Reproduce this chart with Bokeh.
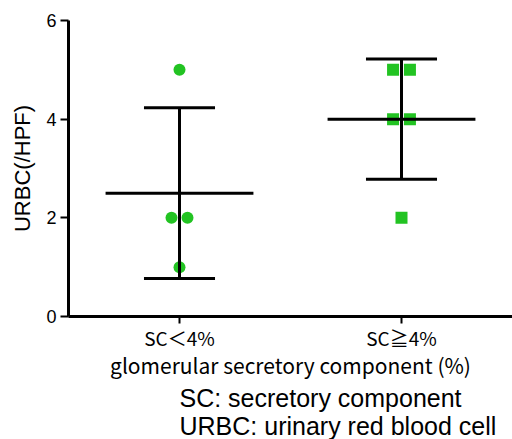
from bokeh.plotting import figure
from bokeh.models import Range1d, FixedTicker, Title, ColumnDataSource
from bokeh.embed import file_html
from bokeh.resources import INLINE

# ---- data ----
categories = ["SC＜4%", "SC≧4%"]
low_values = [5, 2, 2, 1]
high_values = [5, 5, 4, 4, 2]
group_mean = [2.5, 4.0]
group_sd = [1.73, 1.22]
y_ticks = [0, 2, 4, 6]
notes = ["SC: secretory component", "URBC: urinary red blood cell"]

# horizontal display offsets (jitter) for overlapping points
low_jitter = [0.0, -0.036, 0.036, 0.0]
high_jitter = [-0.038, 0.038, -0.038, 0.038, 0.0]

GREEN = "#22C322"

p = figure(width=512, height=439, output_backend="svg", toolbar_location=None,
           x_range=Range1d(0.5, 2.5), y_range=Range1d(0, 6),
           min_border_left=68, min_border_right=0, min_border_top=20,
           min_border_bottom=123)
p.outline_line_color = None
p.xgrid.visible = False
p.ygrid.visible = False
p.background_fill_color = "white"

pos = [1, 2]
low_src = ColumnDataSource(dict(x=[pos[0] + j for j in low_jitter], y=low_values))
high_src = ColumnDataSource(dict(x=[pos[1] + j for j in high_jitter], y=high_values))
p.scatter("x", "y", source=low_src, marker="circle", size=12, fill_color=GREEN,
          line_color=None)
p.scatter("x", "y", source=high_src, marker="square", size=12, fill_color=GREEN,
          line_color=None)

mean_half = 0.333
cap_half = 0.16
for xc, m, s in zip(pos, group_mean, group_sd):
    p.segment(x0=[xc - mean_half], x1=[xc + mean_half], y0=[m], y1=[m],
              line_color="black", line_width=3)
    p.segment(x0=[xc], x1=[xc], y0=[m - s], y1=[m + s], line_color="black",
              line_width=3)
    p.segment(x0=[xc - cap_half, xc - cap_half], x1=[xc + cap_half, xc + cap_half],
              y0=[m - s, m + s], y1=[m - s, m + s], line_color="black",
              line_width=3)

# y axis
ya = p.yaxis[0]
ya.ticker = FixedTicker(ticks=y_ticks)
ya.axis_line_width = 3
ya.axis_line_color = "black"
ya.major_tick_line_width = 2
ya.major_tick_line_color = "black"
ya.major_tick_out = 8
ya.major_tick_in = 0
ya.minor_tick_line_color = None
ya.major_label_text_font = "Liberation Sans"
ya.major_label_text_font_size = "18px"
ya.major_label_text_color = "black"
ya.major_label_standoff = 4
ya.axis_label = "URBC(/HPF)"
ya.axis_label_text_font = "Liberation Sans"
ya.axis_label_text_font_style = "normal"
ya.axis_label_text_font_size = "22px"
ya.axis_label_text_color = "black"
ya.axis_label_standoff = 8

# x axis
xa = p.xaxis[0]
xa.ticker = FixedTicker(ticks=pos)
xa.major_label_overrides = {pos[0]: categories[0], pos[1]: categories[1]}
xa.axis_line_width = 3
xa.axis_line_color = "black"
xa.major_tick_line_width = 2
xa.major_tick_line_color = "black"
xa.major_tick_out = 7
xa.major_tick_in = 0
xa.minor_tick_line_color = None
xa.major_label_text_font = "Noto Sans CJK JP"
xa.major_label_text_font_size = "19px"
xa.major_label_text_color = "black"
xa.major_label_standoff = 0
xa.axis_label = "glomerular secretory component (%)"
xa.axis_label_text_font = "Noto Sans CJK JP"
xa.axis_label_text_font_style = "normal"
xa.axis_label_text_font_size = "21px"
xa.axis_label_text_color = "black"
xa.axis_label_standoff = -4

# footnotes below the axis title
for txt in notes:
    p.add_layout(Title(text=txt, align="left", offset=111, standoff=-2,
                       text_font="Liberation Sans", text_font_size="25px",
                       text_font_style="normal", text_color="black"), "below")

open("out.html", "w").write(file_html(p, INLINE))
